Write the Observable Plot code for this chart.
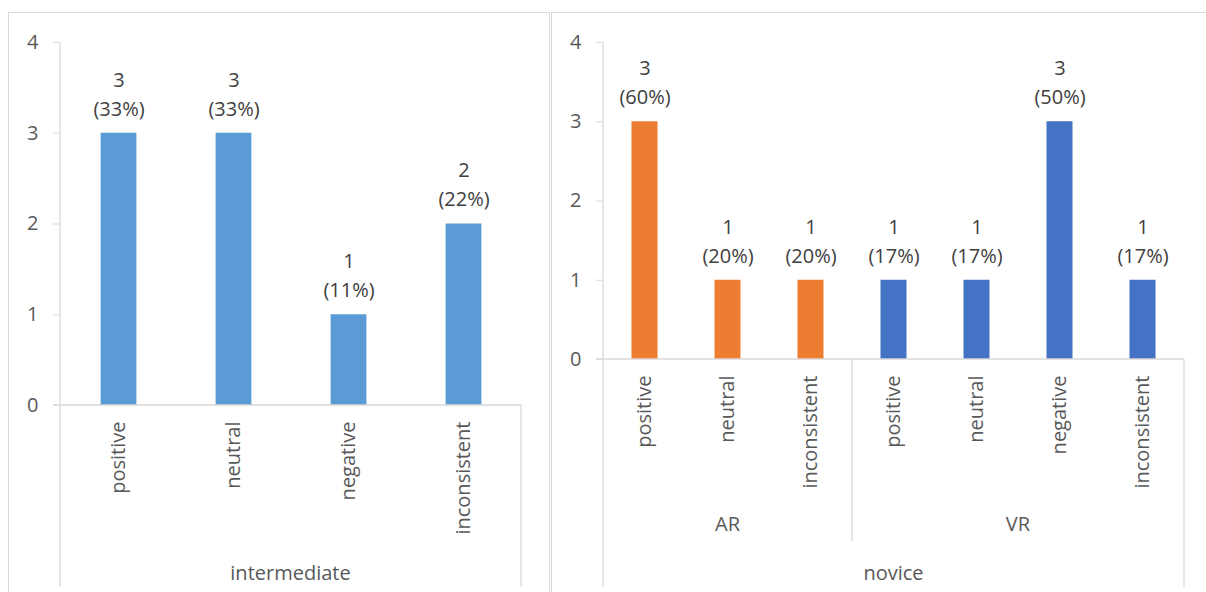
<!DOCTYPE html>
<html><head><meta charset="utf-8">
<script src="https://cdn.jsdelivr.net/npm/d3@7"></script>
<script src="https://cdn.jsdelivr.net/npm/@observablehq/plot@0.6"></script>
<style>
body{margin:0;background:#fff;}
#wrap{position:relative;width:1206px;height:592px;overflow:hidden;background:#fff;}
.panel{position:absolute;border:1px solid #d9d9d9;box-sizing:border-box;}
.plot{position:absolute;top:0;}
</style></head><body><div id="wrap"></div>
<script>
// ---- data ----
const intermediateCategories = ["positive", "neutral", "negative", "inconsistent"];
const intermediateCounts = [3, 3, 1, 2];
const intermediatePercents = ["33%", "33%", "11%", "22%"];

const noviceGroups = ["AR", "AR", "AR", "VR", "VR", "VR", "VR"];
const noviceCategories = ["positive", "neutral", "inconsistent", "positive", "neutral", "negative", "inconsistent"];
const noviceCounts = [3, 1, 1, 1, 1, 3, 1];
const novicePercents = ["60%", "20%", "20%", "17%", "17%", "50%", "17%"];

const yTicks = [0, 1, 2, 3, 4];
const seriesColors = {intermediate: "#5B9BD5", AR: "#ED7D31", VR: "#4472C4"};

// ---- build rows ----
const interRows = intermediateCategories.map((c, i) => ({
  key: "intermediate|" + c, group: "intermediate", cat: c, count: intermediateCounts[i], pct: intermediatePercents[i]
}));
const noviceRows = noviceCategories.map((c, i) => ({
  key: noviceGroups[i] + "|" + c, group: noviceGroups[i], cat: c, count: noviceCounts[i], pct: novicePercents[i]
}));

const FONT = '"Open Sans", "Noto Sans", sans-serif';
const AXIS = "#d9d9d9";
const TXT = "#595959";
const wrap = document.getElementById("wrap");

// panel frames
function frame(left, top, width, height) {
  const d = document.createElement("div");
  d.className = "panel";
  Object.assign(d.style, {left: left + "px", top: top + "px", width: width + "px", height: height + "px"});
  wrap.appendChild(d);
}
frame(8, 12, 542, 700);
frame(551, 12, 700, 700);

function panel({rows, left, width, marginLeft, marginRight, marginBottom, inset, subgroups, outerLabel}) {
  const height = 592;
  const plot = Plot.plot({
    width, height, marginTop: 42, marginLeft, marginRight, marginBottom,
    style: {fontFamily: FONT, fontSize: "20px", color: TXT, background: "transparent", overflow: "visible"},
    x: {type: "band", domain: rows.map(d => d.key), padding: 0, axis: null},
    y: {domain: [0, 4], axis: null},
    color: {type: "identity"},
    marks: [
      Plot.axisY({ticks: yTicks, tickSize: 7, tickPadding: 15, stroke: AXIS, fill: TXT, label: null, tickFormat: d3.format("d")}),
      Plot.barY(rows, {x: "key", y: "count", fill: d => seriesColors[d.group], insetLeft: inset, insetRight: inset}),
      Plot.text(rows, {x: "key", y: "count", text: d => String(d.count), dy: -53, fill: "#404040"}),
      Plot.text(rows, {x: "key", y: "count", text: d => "(" + d.pct + ")", dy: -24, fill: "#404040"}),
      Plot.text(rows, {x: "key", y: 0, text: "cat", rotate: -90, textAnchor: "end", dy: 16, fill: TXT})
    ]
  });
  plot.classList.add("plot");
  plot.style.left = left + "px";
  wrap.appendChild(plot);

  const xs = plot.scale("x"), ys = plot.scale("y");
  const x0 = xs.range[0], x1 = xs.range[1];
  const y0 = ys.apply(0), yTop = ys.apply(4);
  const bottom = 587;
  const svg = d3.select(plot);
  const g = svg.append("g").attr("stroke", AXIS).attr("stroke-width", 1.3);
  g.append("line").attr("x1", x0).attr("x2", x0).attr("y1", yTop).attr("y2", bottom);
  g.append("line").attr("x1", x0 - 7).attr("x2", x1).attr("y1", y0).attr("y2", y0);
  g.append("line").attr("x1", x1).attr("x2", x1).attr("y1", y0).attr("y2", bottom);

  const t = svg.append("g").attr("fill", TXT).attr("text-anchor", "middle")
    .attr("font-family", FONT).attr("font-size", 20);
  if (subgroups) {
    const names = Array.from(new Set(rows.map(d => d.group)));
    names.forEach((name, i) => {
      const keys = rows.filter(d => d.group === name).map(d => d.key);
      const a = xs.apply(keys[0]), b = xs.apply(keys[keys.length - 1]) + xs.bandwidth;
      if (i > 0) g.append("line").attr("x1", a).attr("x2", a).attr("y1", y0).attr("y2", 541);
      t.append("text").attr("x", (a + b) / 2).attr("y", 524).attr("dy", "0.35em").text(name);
    });
  }
  t.append("text").attr("x", (x0 + x1) / 2).attr("y", 573).attr("dy", "0.35em").text(outerLabel);
}

panel({rows: interRows, left: 0, width: 549, marginLeft: 60, marginRight: 28, marginBottom: 592 - 405,
  inset: 39.6, subgroups: false, outerLabel: "intermediate"});
panel({rows: noviceRows, left: 551, width: 655, marginLeft: 52, marginRight: 22, marginBottom: 592 - 359,
  inset: 28.5, subgroups: true, outerLabel: "novice"});
</script>
</body></html>
